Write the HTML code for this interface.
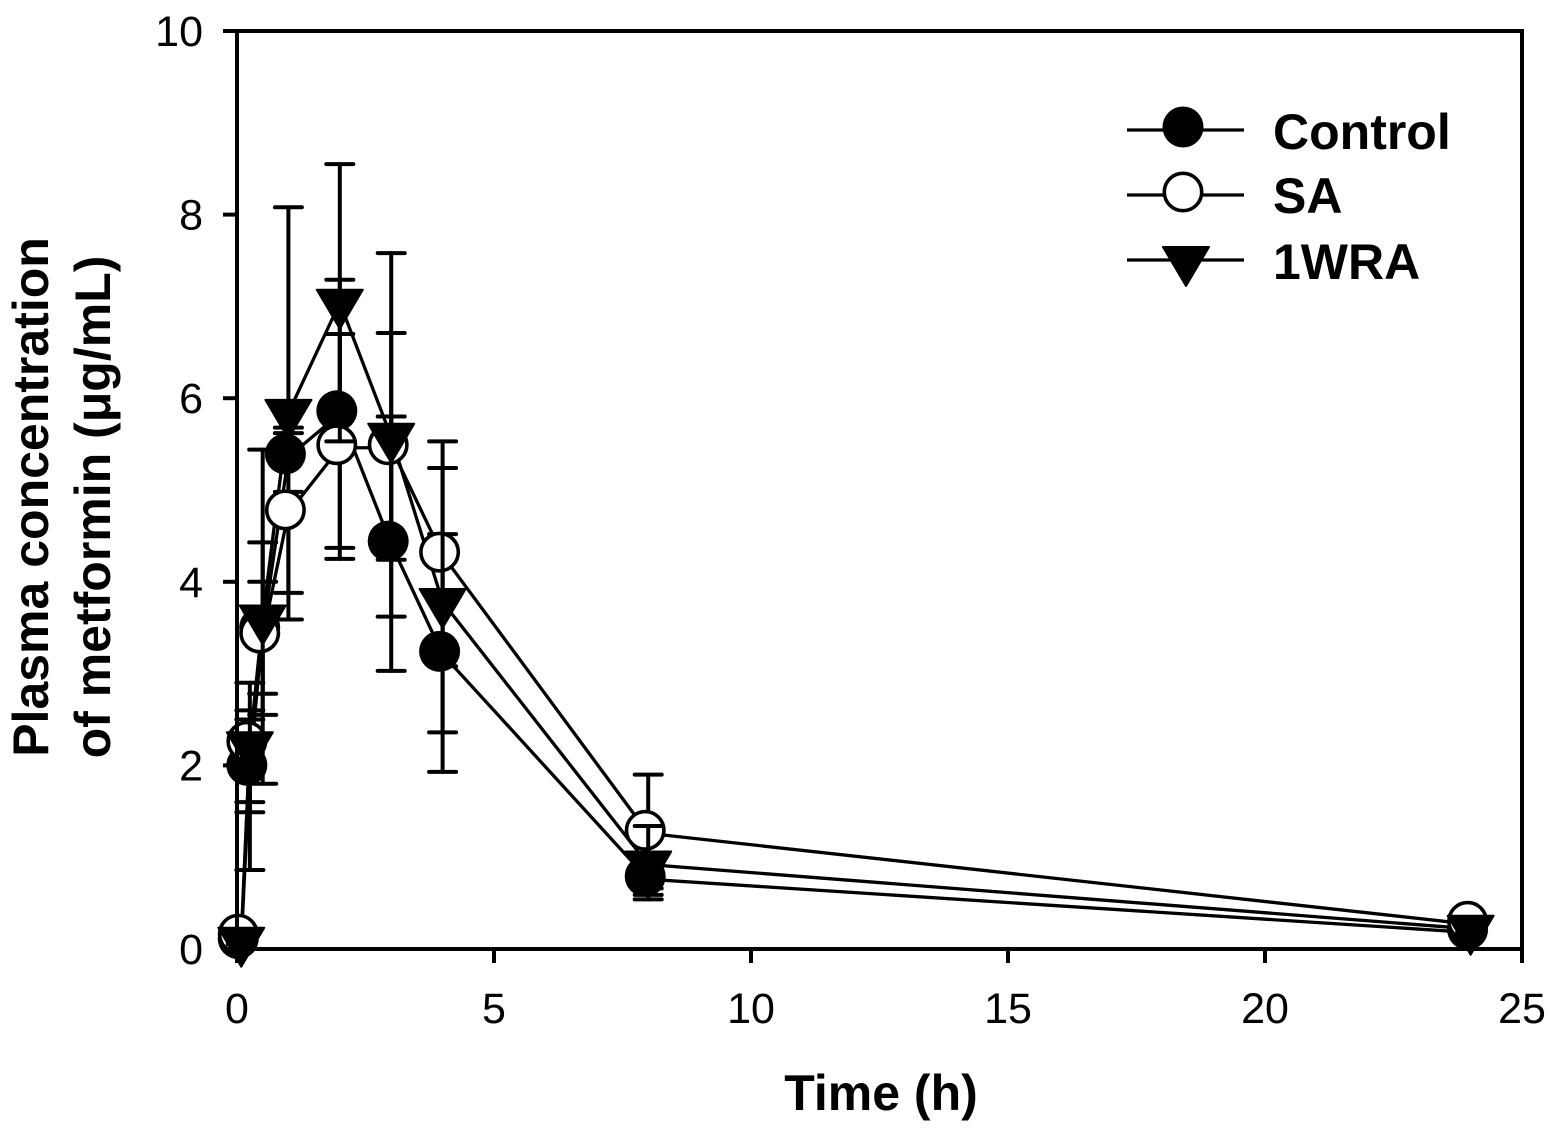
<!DOCTYPE html>
<html>
<head>
<meta charset="utf-8">
<style>
html,body{margin:0;padding:0;background:#fff}
svg{display:block}
text{font-family:"Liberation Sans",Arial,sans-serif;fill:#000}
.tick-label{font-size:43px}
.bold{font-size:50px;font-weight:bold}
</style>
</head>
<body>
<svg id="chart" xmlns="http://www.w3.org/2000/svg" width="1557" height="1130" viewBox="0 0 1557 1130">
  <rect width="1557" height="1130" fill="#fff"/>
  <g id="lines"></g>
  <g id="marks"></g>
  <g id="axes"></g>
  <text class="bold" x="881" y="1110" text-anchor="middle">Time (h)</text>
  <text class="bold" transform="translate(48,497) rotate(-90)" text-anchor="middle">Plasma concentration</text>
  <text class="bold" transform="translate(110,507) rotate(-90)" text-anchor="middle">of metformin (μg/mL)</text>
  <g>
    <g>
      <line x1="1127" x2="1244" y1="130" y2="130" stroke="#000" stroke-width="3.3"/>
      <circle cx="1183" cy="127" r="20.5" fill="#000"/>
      <text class="bold" x="1273" y="149">Control</text>
    </g>
    <g>
      <line x1="1127" x2="1244" y1="195" y2="195" stroke="#000" stroke-width="3.3"/>
      <circle cx="1183" cy="192" r="18.7" fill="#fff" stroke="#000" stroke-width="3.6"/>
      <text class="bold" x="1273" y="213">SA</text>
    </g>
    <g>
      <line x1="1127" x2="1244" y1="260" y2="260" stroke="#000" stroke-width="3.3"/>
      <polygon points="1163,247 1209,247 1186,286" fill="#000" stroke="#000" stroke-width="2" stroke-linejoin="round"/>
      <text class="bold" x="1273" y="279">1WRA</text>
    </g>
  </g>
</svg>
<script>
const times = [0.083, 0.25, 0.5, 1, 2, 3, 4, 8, 24];
const controlValues = [0.08, 1.97, 3.47, 5.36, 5.83, 4.41, 3.21, 0.76, 0.18];
const controlHigh = [0.15, 2.90, 4.00, 5.68, 7.29, 5.80, 4.52, 1.00, 0.25];
const controlLow = [0.05, 0.86, 2.78, 3.88, 4.37, 3.03, 1.93, 0.54, 0.15];
const saValues = [0.13, 2.23, 3.41, 4.75, 5.46, 5.46, 4.29, 1.26, 0.27];
const saHigh = [0.20, 2.50, 4.43, 4.98, 6.70, 6.71, 5.53, 1.90, 0.35];
const saLow = [0.08, 1.60, 2.55, 3.59, 4.25, 4.24, 3.08, 0.66, 0.22];
const wraValues = [0.09, 2.22, 3.60, 5.84, 7.04, 5.58, 3.78, 0.92, 0.22];
const wraHigh = [0.17, 2.60, 5.44, 8.08, 8.55, 7.58, 5.24, 1.34, 0.30];
const wraLow = [0.05, 1.49, 1.80, 5.62, 5.53, 3.62, 2.36, 0.59, 0.18];
const xTicks = [0, 5, 10, 15, 20, 25];
const yTicks = [0, 2, 4, 6, 8, 10];

const NS = 'http://www.w3.org/2000/svg';
const xScale = t => 237 + t * (1522 - 237) / 25;
const yScale = v => 949 - v * 91.8;

function make(tag, parent, attrs) {
  const el = document.createElementNS(NS, tag);
  for (const k in attrs) el.setAttribute(k, attrs[k]);
  parent.appendChild(el);
  return el;
}

const linesLayer = document.getElementById('lines');
const marksLayer = document.getElementById('marks');
const axesLayer = document.getElementById('axes');

function drawSeriesLine(values, name) {
  const pts = times.map((t, i) => xScale(t) + ',' + yScale(values[i])).join(' ');
  const el = make('polyline', linesLayer, {points: pts, fill: 'none', stroke: '#000', 'stroke-width': 3.3});
  
  
}

function drawErrorBars(high, low, name) {
  times.forEach((t, i) => {
    const x = xScale(t), y1 = yScale(high[i]), y2 = yScale(low[i]);
    const g = make('g', marksLayer, {stroke: '#000', 'stroke-width': 4, 'stroke-linecap': 'round'});
    
    
    make('line', g, {x1: x, x2: x, y1: y1, y2: y2});
    make('line', g, {x1: x - 13.5, x2: x + 13.5, y1: y1, y2: y1});
    make('line', g, {x1: x - 13.5, x2: x + 13.5, y1: y2, y2: y2});
  });
}

function drawCircles(values, name, open) {
  times.forEach((t, i) => {
    const attrs = open
      ? {cx: xScale(t) - 3, cy: yScale(values[i]) - 3, r: 18.7, fill: '#fff', stroke: '#000', 'stroke-width': 3.6}
      : {cx: xScale(t) - 3, cy: yScale(values[i]) - 3, r: 20.5, fill: '#000'};
    const c = make('circle', marksLayer, attrs);
    
    
  });
}

function drawTriangles(values, name) {
  times.forEach((t, i) => {
    const x = xScale(t), y = yScale(values[i]);
    const pts = (x - 23) + ',' + (y - 13) + ' ' + (x + 23) + ',' + (y - 13) + ' ' + x + ',' + (y + 26);
    const p = make('polygon', marksLayer, {points: pts, fill: '#000', stroke: '#000', 'stroke-width': 2, 'stroke-linejoin': 'round'});
    
    
  });
}

drawSeriesLine(controlValues, 'control');
drawSeriesLine(saValues, 'sa');
drawSeriesLine(wraValues, 'wra');

drawErrorBars(controlHigh, controlLow, 'control');
drawCircles(controlValues, 'control', false);
drawErrorBars(saHigh, saLow, 'sa');
drawCircles(saValues, 'sa', true);
drawErrorBars(wraHigh, wraLow, 'wra');
drawTriangles(wraValues, 'wra');

const frame = make('rect', axesLayer, {x: 237, y: 31, width: 1285, height: 918, fill: 'none', stroke: '#000', 'stroke-width': 4});



xTicks.forEach(v => {
  const x = xScale(v);
  const tick = make('line', axesLayer, {x1: x, x2: x, y1: 949, y2: 963, stroke: '#000', 'stroke-width': 4});
  
  
  const label = make('text', axesLayer, {x: x, y: 1023, 'text-anchor': 'middle', class: 'tick-label'});
  label.textContent = String(v);
  
  
});

yTicks.forEach(v => {
  const y = yScale(v);
  const tick = make('line', axesLayer, {x1: 223, x2: 237, y1: y, y2: y, stroke: '#000', 'stroke-width': 4});
  
  
  const label = make('text', axesLayer, {x: 203, y: y + 15, 'text-anchor': 'end', class: 'tick-label'});
  label.textContent = String(v);
  
  
});
</script>
</body>
</html>
